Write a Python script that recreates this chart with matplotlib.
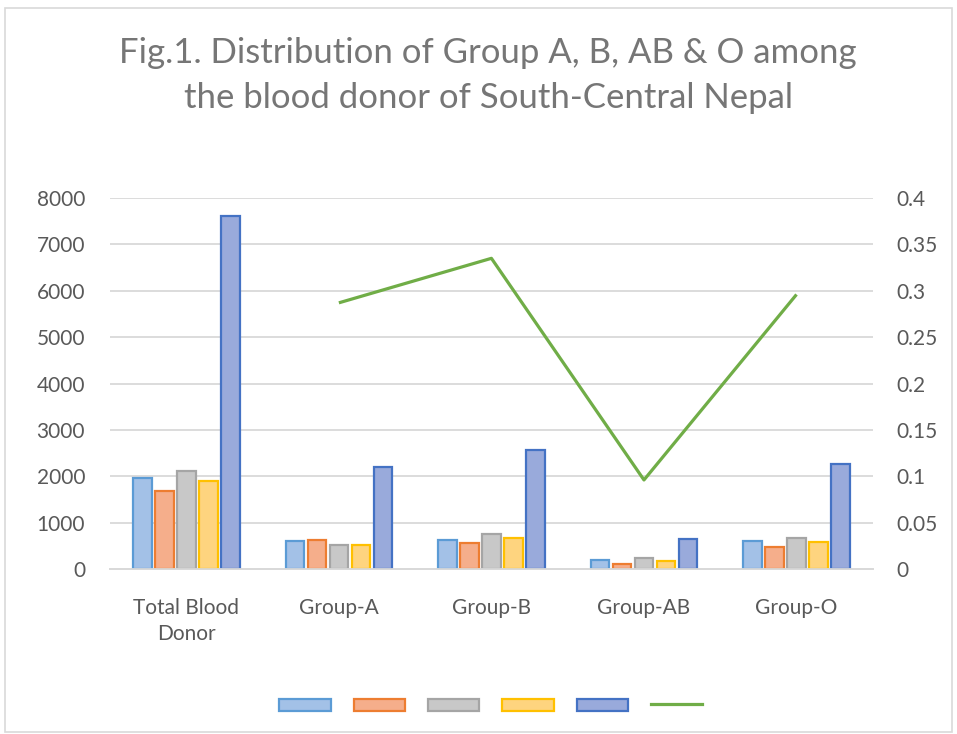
import numpy as np
import matplotlib.pyplot as plt
from matplotlib.patches import Rectangle, Patch
from matplotlib.lines import Line2D
from matplotlib.ticker import FuncFormatter

plt.rcParams['font.family'] = ['Lato', 'DejaVu Sans']

categories = ['Total Blood\nDonor', 'Group-A', 'Group-B', 'Group-AB', 'Group-O']
s1 = [1970, 604, 625, 201, 611]
s2 = [1689, 619, 567, 101, 474]
s3 = [2113, 511, 761, 237, 661]
s4 = [1897, 518, 668, 180, 589]
s5 = [7618, 2193, 2566, 654, 2271]
ratio = [np.nan, 0.287, 0.335, 0.096, 0.296]

series = [s1, s2, s3, s4, s5]
fills = ['#a3c1e7', '#f5ae8b', '#c8c8c8', '#fed47f', '#99aadb']
edges = ['#5b9bd5', '#ed7d31', '#a5a5a5', '#ffc000', '#4472c4']
txt = '#595959'
grid = '#d9d9d9'

fig = plt.figure(figsize=(9.57, 7.34), dpi=100)
ax = fig.add_axes([0.115, 0.2248, 0.797, 0.5054])
ax2 = ax.twinx()

x = np.arange(len(categories))
slot = 0.144
bw = 0.122
for i, (vals, fc, ec) in enumerate(zip(series, fills, edges)):
    ax.bar(x + (i - 2) * slot, vals, width=bw, color=fc, edgecolor=ec,
           linewidth=1.6, zorder=3)

ax2.plot(x, ratio, color='#70ad47', linewidth=2.3, solid_capstyle='butt')

ax.set_xlim(-0.5, len(categories) - 0.5)
ax.set_ylim(0, 8000)
ax.set_yticks(range(0, 8001, 1000))
ax2.set_ylim(0, 0.4)
ax2.set_yticks(np.arange(0, 0.401, 0.05))
ax2.yaxis.set_major_formatter(FuncFormatter(lambda v, p: '%g' % round(v, 2)))

ax.set_xticks(x)
ax.set_xticklabels(categories, linespacing=1.35)
ax.grid(axis='y', color=grid, linewidth=1.3, zorder=0)
ax.set_axisbelow(True)

for a in (ax, ax2):
    for sp in ('top', 'left', 'right'):
        a.spines[sp].set_visible(False)
    a.spines['bottom'].set_color(grid)
    a.spines['bottom'].set_linewidth(1.3)
    a.tick_params(length=0, labelsize=15, labelcolor=txt)
ax.tick_params(axis='y', pad=18)
ax2.tick_params(axis='y', pad=17)
ax.tick_params(axis='x', pad=21)

fig.text(0.51, 1 - 63 / 734, 'Fig.1. Distribution of Group A, B, AB & O among',
         ha='center', va='baseline', fontsize=25, color='#767676')
fig.text(0.51, 1 - 108 / 734, 'the blood donor of South-Central Nepal',
         ha='center', va='baseline', fontsize=25, color='#767676')

# chart frame
fig.patches.append(Rectangle((0.005, 0.003), 0.99, 0.986, transform=fig.transFigure,
                             fill=False, edgecolor=grid, linewidth=1.2))

handles = [Patch(facecolor=fc, edgecolor=ec, linewidth=1.6) for fc, ec in zip(fills, edges)]
handles.append(Line2D([], [], color='#70ad47', linewidth=2.3))
fig.legend(handles, [''] * 6, loc='center', bbox_to_anchor=(0.513, 0.039), ncol=6,
           frameon=False, handlelength=3.7, handleheight=1.0, handletextpad=0,
           columnspacing=1.65, fontsize=10)

fig.savefig('out.png', dpi=100)
